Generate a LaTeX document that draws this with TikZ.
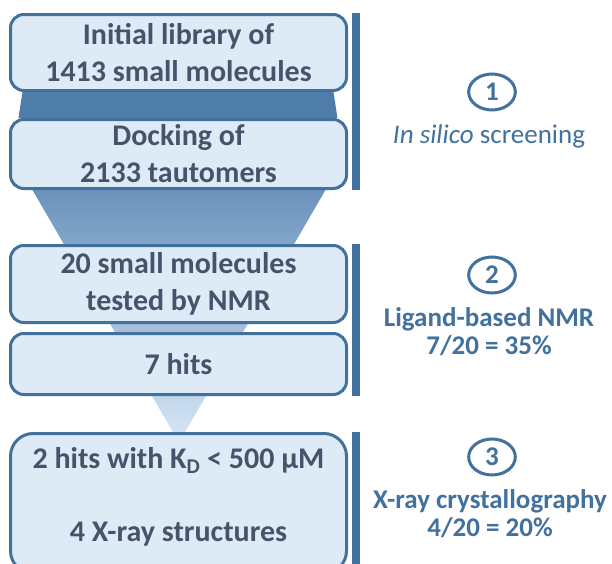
\documentclass[tikz,border=0pt]{standalone}
\usepackage{fontspec}
\setmainfont{Carlito}
\usepackage{xcolor}
\usepackage{tikz}
\usetikzlibrary{shapes.geometric, positioning, calc, backgrounds}

\definecolor{boxfill}{HTML}{DEEBF7}
\definecolor{boxline}{HTML}{41719C}
\definecolor{boxtext}{HTML}{44546A}
\definecolor{funneldark}{HTML}{4F7DA9}
\definecolor{funneltop}{HTML}{6C93BD}
\definecolor{funnelmid}{HTML}{A7C4E2}
\definecolor{funnelend}{HTML}{D6E6F6}
\definecolor{stagecol}{HTML}{41719C}

\begin{document}
\begin{tikzpicture}[
    x=0.75pt, y=-0.75pt,
    box/.style={rectangle, draw=boxline, line width=2.25pt, fill=boxfill, rounded corners=10pt, minimum width=252pt, align=center, text=boxtext, inner sep=0pt, font=\fontsize{22.5}{27.75}\selectfont\bfseries},
    bar/.style={draw=boxline, line width=6.5pt},
    num/.style={ellipse, draw=stagecol, line width=2.25pt, minimum width=35pt, minimum height=27pt, inner sep=0pt, text=stagecol, font=\fontsize{20.25}{21}\selectfont\bfseries},
    stage/.style={align=center, text=stagecol, inner sep=0pt, font=\fontsize{20.25}{21}\selectfont\bfseries}
]
\useasboundingbox (0,0) rectangle (612,564);

% Stage 1: in silico
\node[box, minimum height=57pt] (lib) at (178.5,52.5) {Initial library of\\1413 small molecules};
\node[box, minimum height=51.75pt, below=19.5pt of lib] (dock) {Docking of\\2133 tautomers};

% Stage 2: NMR
\node[box, minimum height=57.75pt, below=40.5pt of dock] (nmr) {20 small molecules\\tested by NMR};
\node[box, minimum height=45.75pt, below=6pt of nmr] (hits) {7 hits};

% Stage 3: X-ray
\node[box, minimum height=105pt, rounded corners=17pt, below=27pt of hits] (xray) {2 hits with K\textsubscript{D} < 500 µM\\[27pt]4 X-ray structures\rule[-13pt]{0pt}{13pt}};

% Funnel behind the boxes
\begin{scope}[on background layer]
\fill[funneldark] ([xshift=10.1pt]lib.south west) -- ([xshift=-10.9pt]lib.south east)
    -- ([xshift=-7.9pt]dock.north east) -- ([xshift=7.1pt]dock.north west) -- cycle;
\shade[top color=funneltop, middle color=funnelmid, bottom color=funnelend]
    ([xshift=17.6pt]dock.south west) -- ([xshift=-16.9pt]dock.south east)
    -- ($(xray.north)+(0.5,10.5)$) -- cycle;
\end{scope}

% Bars
\draw[bar] ([xshift=6pt]lib.north east) -- ([xshift=6pt]dock.south east);
\draw[bar] ([xshift=6pt]nmr.north east) -- ([xshift=6pt]hits.south east);
\draw[bar] ([xshift=6pt]xray.north east) -- ([xshift=6pt]xray.south east);

% Stage labels
\node[num] (n1) at (492,92) {1};
\node[stage, font=\fontsize{20.25}{21}\selectfont] (l1) at (489,136) {\textit{In silico} screening};
\node[num] (n2) at (492,275) {2};
\node[stage] (l2) at (489,331.5) {Ligand-based NMR\\7/20 = 35\%};
\node[num] (n3) at (492,457) {3};
\node[stage] (l3) at (490,514) {X-ray crystallography\\4/20 = 20\%};

\end{tikzpicture}
\end{document}
